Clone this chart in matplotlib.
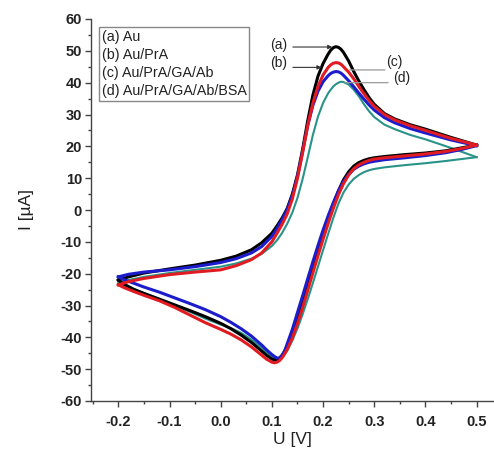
import matplotlib
matplotlib.use("Agg")
from matplotlib import pyplot as plt
from matplotlib.ticker import MultipleLocator

plt.rcParams['font.family'] = ['Liberation Sans', 'DejaVu Sans']

# Data (potential in V, current in uA)
# forward scan, -0.2 -> 0.5
u_fwd = [-0.2, -0.18, -0.15, -0.1, -0.05, 0.0, 0.03, 0.06, 0.08, 0.10,
         0.11, 0.12, 0.13, 0.14, 0.15, 0.16, 0.17, 0.18, 0.19, 0.20,
         0.21, 0.215, 0.22, 0.225, 0.23, 0.235, 0.24, 0.25, 0.26, 0.27,
         0.28, 0.29, 0.30, 0.32, 0.34, 0.37, 0.40, 0.45, 0.50]
i_fwd_a = [-22.0, -21.0, -19.8, -18.5, -17.3, -15.8, -14.5, -12.5, -10.3, -7.3,
           -5.0, -2.5, 0.5, 5.0, 11.0, 19.0, 28.0, 36.0, 42.0, 46.0,
           49.0, 50.2, 51.0, 51.3, 51.1, 50.5, 49.5, 46.8, 43.5, 40.5,
           37.8, 35.3, 33.2, 30.3, 28.6, 26.8, 25.4, 22.8, 20.4]
i_fwd_b = [-23.5, -22.5, -21.5, -20.3, -19.5, -18.8, -17.5, -15.6, -13.5, -10.0,
           -7.3, -4.5, -1.2, 3.5, 10.0, 18.0, 26.5, 33.5, 38.8, 42.4,
           44.8, 45.6, 46.1, 46.3, 46.2, 45.8, 45.0, 43.3, 41.2, 38.8,
           36.5, 34.4, 32.6, 30.0, 28.3, 26.5, 25.0, 22.5, 20.4]
i_fwd_c = [-21.0, -20.2, -19.5, -18.8, -17.8, -16.5, -15.3, -13.5, -11.5, -8.3,
           -5.8, -3.0, 0.2, 4.5, 10.5, 18.3, 26.5, 32.8, 37.3, 40.3,
           42.2, 42.9, 43.3, 43.5, 43.4, 43.0, 42.3, 40.6, 38.7, 36.7,
           34.8, 33.0, 31.4, 29.0, 27.4, 25.6, 24.2, 22.0, 20.2]
i_fwd_d = [-23.0, -22.0, -21.0, -19.8, -18.8, -17.8, -16.8, -15.3, -13.8, -11.3,
           -9.5, -7.2, -4.3, -0.8, 3.8, 9.7, 16.5, 23.5, 29.3, 33.6,
           36.7, 37.8, 38.8, 39.5, 40.0, 40.3, 40.2, 39.4, 37.8, 35.7,
           33.2, 31.0, 29.2, 26.8, 25.4, 23.6, 22.2, 19.5, 16.6]

# reverse scan, 0.5 -> -0.2
u_rev = [0.5, 0.47, 0.44, 0.40, 0.36, 0.32, 0.30, 0.29, 0.28, 0.27,
         0.26, 0.25, 0.24, 0.23, 0.22, 0.21, 0.20, 0.19, 0.18, 0.17,
         0.16, 0.15, 0.14, 0.13, 0.125, 0.12, 0.115, 0.11, 0.105, 0.10,
         0.09, 0.08, 0.06, 0.04, 0.02, 0.0, -0.03, -0.06, -0.09, -0.12,
         -0.15, -0.17, -0.19, -0.2]
i_rev_a = [20.4, 19.5, 18.6, 17.9, 17.4, 16.8, 16.4, 16.1, 15.6, 14.9,
           13.8, 12.0, 9.5, 6.0, 1.8, -3.0, -8.0, -13.2, -18.6, -24.0,
           -29.3, -34.3, -38.8, -42.7, -44.3, -45.6, -46.5, -47.0, -47.1, -46.8,
           -45.7, -44.3, -41.6, -39.3, -37.3, -35.6, -33.5, -31.6, -29.8, -28.0,
           -26.2, -24.9, -23.2, -22.0]
i_rev_b = [20.4, 19.3, 18.4, 17.6, 17.0, 16.4, 16.0, 15.6, 15.0, 14.2,
           13.0, 11.0, 8.3, 4.8, 0.5, -4.2, -9.2, -14.4, -19.8, -25.3,
           -30.7, -35.7, -40.2, -43.8, -45.2, -46.4, -47.3, -47.8, -48.0, -47.8,
           -46.9, -45.6, -43.0, -40.8, -39.0, -37.5, -35.4, -33.0, -30.6, -28.5,
           -26.8, -25.6, -24.3, -23.5]
i_rev_c = [20.2, 19.0, 18.0, 17.1, 16.4, 15.8, 15.3, 15.0, 14.5, 13.8,
           12.8, 11.2, 9.0, 6.0, 2.3, -1.8, -6.3, -11.2, -16.3, -21.6,
           -27.0, -32.2, -37.5, -42.0, -44.3, -45.8, -46.5, -46.5, -46.0, -45.4,
           -44.0, -42.4, -39.6, -37.3, -35.3, -33.5, -31.3, -29.4, -27.6, -25.8,
           -24.2, -23.0, -21.8, -21.0]
i_rev_d = [16.6, 16.0, 15.4, 14.7, 14.1, 13.4, 12.9, 12.5, 11.9, 11.0,
           9.8, 8.0, 5.5, 2.0, -2.5, -7.5, -12.6, -17.8, -23.0, -28.0,
           -32.8, -37.2, -41.0, -44.2, -45.3, -46.2, -46.7, -46.8, -46.6, -46.1,
           -44.8, -43.3, -40.7, -38.6, -37.1, -36.0, -34.1, -32.0, -29.9, -27.9,
           -26.1, -24.9, -23.7, -23.0]

labels = ['(a) Au', '(b) Au/PrA', '(c) Au/PrA/GA/Ab', '(d) Au/PrA/GA/Ab/BSA']

fig = plt.figure(figsize=(4.94, 4.53), dpi=100)
ax = fig.add_axes([90.7 / 494, 52 / 453, 1 - 90.7 / 494, 382 / 453])

# teal first so it sits under the others
ax.plot(u_fwd, i_fwd_d, c='#2a9389', lw=1.5)
ax.plot(u_rev, i_rev_d, c='#2a9389', lw=1.5)
ax.plot(u_fwd, i_fwd_a, c='black', lw=2.2)
ax.plot(u_rev, i_rev_a, c='black', lw=2.2)
ax.plot(u_fwd, i_fwd_c, c='#1c1ccc', lw=2.2)
ax.plot(u_rev, i_rev_c, c='#1c1ccc', lw=2.2)
ax.plot(u_fwd, i_fwd_b, c='#e01b22', lw=2.2)
ax.plot(u_rev, i_rev_b, c='#e01b22', lw=2.2)

ax.set_xlim(-0.254, 0.534)
ax.set_ylim(-60, 60)
ax.xaxis.set_minor_locator(MultipleLocator(0.05))
ax.yaxis.set_minor_locator(MultipleLocator(5))
ax.set_xticks([-0.2, -0.1, 0.0, 0.1, 0.2, 0.3, 0.4, 0.5])
ax.set_xticklabels(['-0.2', '-0.1', '0.0', '0.1', '0.2', '0.3', '0.4', '0.5'])
ax.set_yticks(range(-60, 61, 10))
ax.set_yticklabels([str(v) for v in range(-60, 61, 10)])

for s in ['top', 'right']:
    ax.spines[s].set_visible(False)
for s in ['left', 'bottom']:
    ax.spines[s].set_color('#444444')
    ax.spines[s].set_linewidth(1.0)

ax.tick_params(which='major', direction='out', length=4, width=1, color='#444444',
               labelsize=10.5)
ax.tick_params(which='minor', direction='out', length=2.2, width=1, color='#444444')
ax.tick_params(axis='x', which='major', pad=6.2)
ax.tick_params(axis='y', which='major', pad=2.2)
for t in ax.get_xticklabels() + ax.get_yticklabels():
    t.set_fontweight('bold')
    t.set_color('#222222')

ax.set_xlabel('U [V]', fontsize=12.5, color='#222222', labelpad=2)
ax.set_ylabel('I [µA]', fontsize=12.5, color='#222222', labelpad=19)

# legend box (text only)
ax.text(0.0273, 0.9725, '\n'.join(labels), transform=ax.transAxes, fontsize=10.3,
        va='top', ha='left', linespacing=1.38, color='#222222',
        bbox=dict(boxstyle='square,pad=0.2', fc='white', ec='#888888', lw=1))

# peak labels with leader lines
ax.text(0.097, 51.8, '(a)', fontsize=10, color='#222222', va='center')
ax.text(0.097, 46.2, '(b)', fontsize=10, color='#222222', va='center')
ax.text(0.324, 46.6, '(c)', fontsize=10, color='#222222', va='center')
ax.text(0.336, 41.4, '(d)', fontsize=10, color='#222222', va='center')
black_arrow = dict(arrowstyle='-|>', color='#333333', lw=0.8, mutation_scale=6,
                   shrinkA=0, shrinkB=0)
grey_line = dict(arrowstyle='-', color='#999999', lw=0.9, shrinkA=0, shrinkB=0)
ax.annotate('', xy=(0.218, 51.2), xytext=(0.141, 51.2), arrowprops=black_arrow)
ax.annotate('', xy=(0.197, 44.8), xytext=(0.141, 44.8), arrowprops=black_arrow)
ax.annotate('', xy=(0.252, 44.0), xytext=(0.321, 44.0), arrowprops=grey_line)
ax.annotate('', xy=(0.243, 40.0), xytext=(0.327, 40.0), arrowprops=grey_line)

fig.savefig('out.png', dpi=100)
